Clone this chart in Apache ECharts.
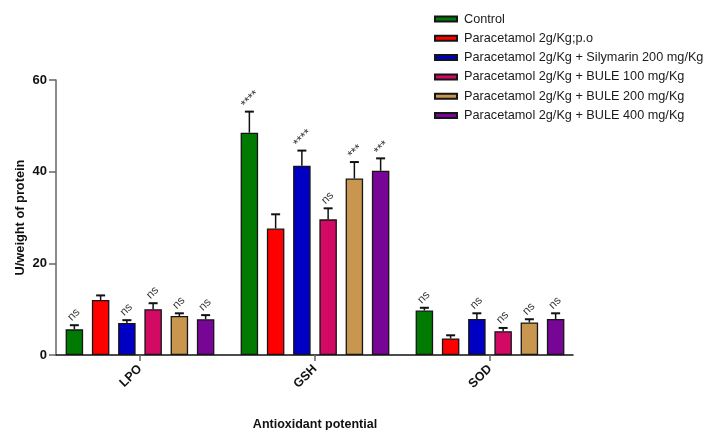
<!DOCTYPE html>
<html>
<head>
<meta charset="utf-8">
<script src="https://cdn.jsdelivr.net/npm/echarts@6/dist/echarts.min.js"></script>
<style>html,body{margin:0;padding:0;background:#fff}#c{width:705px;height:430px}</style>
</head>
<body>
<div id="c"></div>
<script>
var categories = ['LPO', 'GSH', 'SOD'];
var seriesNames = ['Control', 'Paracetamol 2g/Kg;p.o', 'Paracetamol 2g/Kg + Silymarin 200 mg/Kg', 'Paracetamol 2g/Kg + BULE 100 mg/Kg', 'Paracetamol 2g/Kg + BULE 200 mg/Kg', 'Paracetamol 2g/Kg + BULE 400 mg/Kg'];
var colors = ['#007a00', '#ff0000', '#0000c4', '#d20a64', '#c8964f', '#770596'];
var control = [5.6, 48.5, 9.7];
var paracetamol = [12.0, 27.6, 3.6];
var silymarin = [7.0, 41.3, 7.85];
var bule100 = [10.0, 29.6, 5.2];
var bule200 = [8.5, 38.5, 7.1];
var bule400 = [7.8, 40.2, 7.85];
var errControl = [0.9, 4.6, 0.6];
var errParacetamol = [1.0, 3.1, 0.7];
var errSilymarin = [0.6, 3.3, 1.25];
var errBule100 = [1.3, 2.4, 0.7];
var errBule200 = [0.6, 3.6, 0.7];
var errBule400 = [0.9, 2.7, 1.25];
var sigControl = ['ns', '****', 'ns'];
var sigParacetamol = ['', '', ''];
var sigSilymarin = ['ns', '****', 'ns'];
var sigBule100 = ['ns', 'ns', 'ns'];
var sigBule200 = ['ns', '***', 'ns'];
var sigBule400 = ['ns', '***', 'ns'];
var yTicks = [0, 20, 40, 60];

var values = [control, paracetamol, silymarin, bule100, bule200, bule400];
var errs = [errControl, errParacetamol, errSilymarin, errBule100, errBule200, errBule400];
var sigs = [sigControl, sigParacetamol, sigSilymarin, sigBule100, sigBule200, sigBule400];

var FONT = '"Liberation Sans", Arial, sans-serif';
var BAR_W = 17.5, PITCH = 26.25;

var series = [];
values.forEach(function (v, i) {
  series.push({
    name: seriesNames[i], type: 'bar', data: v, barWidth: BAR_W, barGap: '50%',
    xAxisIndex: 0, yAxisIndex: 0,
    itemStyle: { color: colors[i], borderColor: '#151515', borderWidth: 1.3 }
  });
});
values.forEach(function (v, i) {
  var data = v.map(function (val, k) { return [k, val, val + errs[i][k], sigs[i][k]]; });
  series.push({
    type: 'custom', xAxisIndex: 0, yAxisIndex: 0, silent: true, z: 5,
    data: data,
    renderItem: function (params, api) {
      var base = api.coord([api.value(0), api.value(1)]);
      var top = api.coord([api.value(0), api.value(2)]);
      var off = (i - 2.5) * PITCH;
      var x = base[0] + off;
      var children = [
        { type: 'line', shape: { x1: x, y1: base[1], x2: x, y2: top[1] }, style: { stroke: '#111', lineWidth: 1.5 } },
        { type: 'line', shape: { x1: x - 4.5, y1: top[1], x2: x + 4.5, y2: top[1] }, style: { stroke: '#111', lineWidth: 2 } }
      ];
      var s = data[params.dataIndex][3];
      if (s) {
        var isStar = s.charAt(0) === '*';
        var len = s.length * (isStar ? 5.4 : 6.2);
        var cy = top[1] - 4 - len * 0.707 / 2 - 2;
        var cx = x - 0.5;
        children.push({
          type: 'text', x: cx, y: cy, rotation: Math.PI / 4,
          style: { text: s, x: 0, y: isStar ? 2 : 0, align: 'center', verticalAlign: 'middle', fill: '#333', font: (isStar ? '12.5px ' : '11.5px ') + FONT }
        });
      }
      return { type: 'group', children: children };
    }
  });
});

var chart = echarts.init(document.getElementById('c'), null, { renderer: 'canvas' });
chart.setOption({
  backgroundColor: '#fff',
  animation: false,
  legend: {
    orient: 'vertical', left: 434, top: 12, padding: 0, icon: 'rect',
    itemWidth: 22, itemHeight: 5, itemGap: 5.3,
    data: seriesNames,
    textStyle: { fontFamily: FONT, fontSize: 12.7, color: '#1a1a1a', lineHeight: 14, padding: [0, 0, 0, 2] },
    selectedMode: false
  },
  grid: [
    { left: 52.5, top: 80, width: 525, height: 275, outerBoundsMode: 'none', containLabel: false },
    { left: 56, top: 80, width: 517, height: 275, outerBoundsMode: 'none', containLabel: false }
  ],
  xAxis: [
    {
      type: 'category', gridIndex: 0, data: categories, boundaryGap: true,
      axisLine: { show: false },
      axisTick: { show: true, alignWithLabel: true, length: 6, lineStyle: { color: '#666', width: 1.5 } },
      axisLabel: { rotate: 45, margin: 12, fontFamily: FONT, fontSize: 12.5, fontWeight: 'bold', color: '#111' },
      name: 'Antioxidant potential', nameLocation: 'middle', nameGap: 63, nameMoveOverlap: false,
      nameTextStyle: { fontFamily: FONT, fontSize: 12.5, fontWeight: 'bold', color: '#111' }
    },
    {
      type: 'value', gridIndex: 1, min: 0, max: 1,
      axisLine: { show: true, onZero: false, lineStyle: { color: '#111', width: 1.5 } },
      axisTick: { show: false }, axisLabel: { show: false }, splitLine: { show: false }
    }
  ],
  yAxis: [
    {
      type: 'value', gridIndex: 0, min: yTicks[0], max: yTicks[yTicks.length - 1], interval: 20, offset: -3.5,
      axisLine: { show: true, lineStyle: { color: '#666', width: 1.5 } },
      axisTick: { show: true, length: 7, lineStyle: { color: '#666', width: 1.5 } },
      axisLabel: { margin: 9, fontFamily: FONT, fontSize: 13, fontWeight: 'bold', color: '#111' },
      splitLine: { show: false },
      name: 'U/weight of protein', nameLocation: 'middle', nameGap: 29, nameMoveOverlap: false,
      nameTextStyle: { fontFamily: FONT, fontSize: 12.8, fontWeight: 'bold', color: '#111' }
    },
    {
      type: 'value', gridIndex: 1, show: false, min: 0, max: 1
    }
  ],
  series: series
});
</script>
</body>
</html>
